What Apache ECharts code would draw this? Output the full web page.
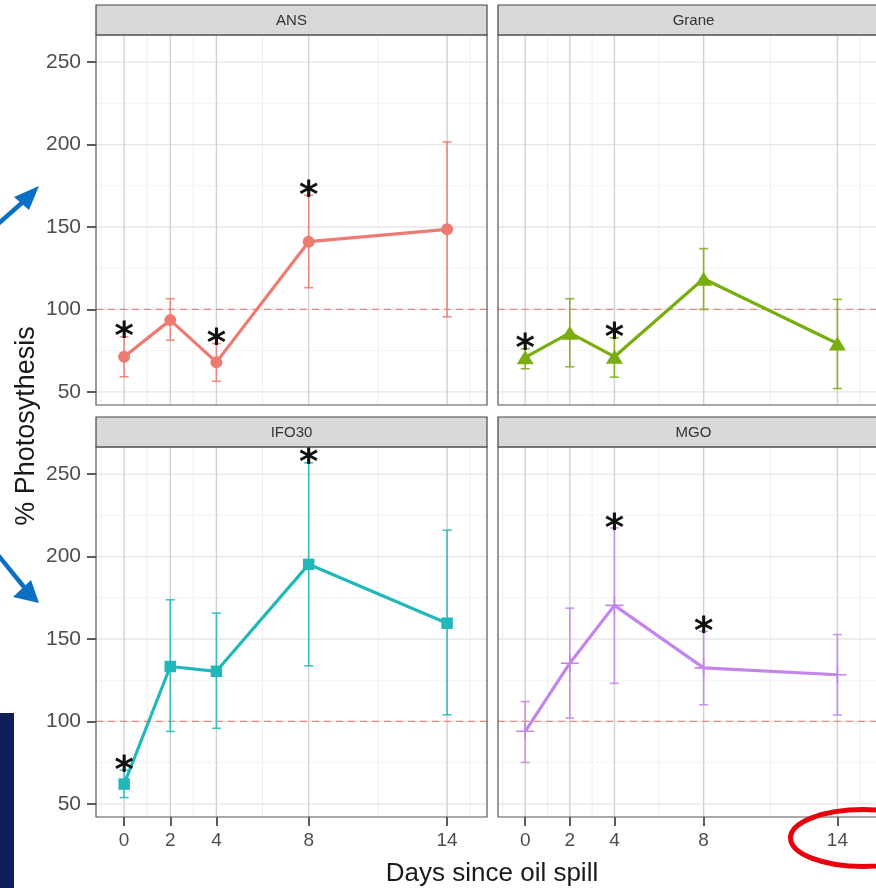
<!DOCTYPE html>
<html><head><meta charset="utf-8">
<script src="https://cdn.jsdelivr.net/npm/echarts@6/dist/echarts.min.js"></script>
<style>html,body{margin:0;padding:0;background:#fff}#c{width:876px;height:888px}</style>
</head><body><div id="c"></div><script>
// ---- data ----
const days = [0, 2, 4, 8, 14];
const xTicks = [0, 2, 4, 8, 14];
const xMinor = [-1, 1, 3, 6, 11, 15];
const yTicks = [50, 100, 150, 200, 250];
const yMinor = [75, 125, 175, 225];
const refValue = 100;
const panelNames = ['ANS', 'Grane', 'IFO30', 'MGO'];

const ansMean  = [71.3, 93.5, 68.0, 141.1, 148.6];
const ansLower = [59.1, 81.3, 56.4, 113.2, 95.5];
const ansUpper = [83.4, 106.5, 79.3, 169.3, 201.6];
const ansSig   = [1, 0, 1, 1, 0];

const graneMean  = [70.9, 85.8, 71.3, 118.6, 79.3];
const graneLower = [64.0, 65.2, 58.9, 100.0, 52.0];
const graneUpper = [76.1, 106.5, 82.8, 136.9, 106.1];
const graneSig   = [1, 0, 1, 0, 0];

const ifoMean  = [62.0, 133.3, 130.4, 195.3, 159.6];
const ifoLower = [53.8, 93.9, 95.8, 133.7, 104.0];
const ifoUpper = [70.5, 173.8, 165.7, 256.9, 216.0];
const ifoSig   = [1, 0, 0, 1, 0];

const mgoMean  = [94.0, 135.3, 170.4, 132.5, 128.3];
const mgoLower = [75.1, 102.0, 123.1, 110.1, 103.9];
const mgoUpper = [112.0, 168.7, 217.4, 154.7, 152.7];
const mgoSig   = [0, 0, 1, 1, 0];

const xTitle = 'Days since oil spill';
const yTitle = '% Photosythesis';

// ---- layout ----
const PW = 391, PH = 370, STRIP = 30;
const lefts = [96, 498, 96, 498];
const tops = [35, 35, 447, 447];
const X_MIN = -1.22, X_MAX = 15.73, Y_MIN = 42, Y_MAX = 266.5;
const FONT = '"Liberation Sans", Arial, sans-serif';
const plusPath = 'path://M0,8.2 L18,8.2 L18,9.8 L0,9.8 Z M8.2,0 L9.8,0 L9.8,18 L8.2,18 Z';

const panels = [
  {mean: ansMean, lower: ansLower, upper: ansUpper, sig: ansSig, color: '#ee7b72', symbol: 'circle', size: 12},
  {mean: graneMean, lower: graneLower, upper: graneUpper, sig: graneSig, color: '#7aad10', symbol: 'triangle', size: [17, 14]},
  {mean: ifoMean, lower: ifoLower, upper: ifoUpper, sig: ifoSig, color: '#22b8ba', symbol: 'rect', size: 11.5},
  {mean: mgoMean, lower: mgoLower, upper: mgoUpper, sig: mgoSig, color: '#c385ea', symbol: plusPath, size: 18}
];

const grid = [], xAxis = [], yAxis = [], series = [], graphic = [];

panels.forEach((p, i) => {
  const bottomRow = i >= 2, leftCol = i % 2 === 0;
  grid.push({left: lefts[i], top: tops[i], width: PW, height: PH, show: true,
    backgroundColor: '#fff', borderWidth: 0});
  xAxis.push({type: 'value', gridIndex: i, min: X_MIN, max: X_MAX, position: 'bottom',
    axisLine: {show: false, onZero: false}, splitLine: {show: false},
    axisTick: {show: bottomRow, customValues: xTicks, length: 9, lineStyle: {color: '#333', width: 1.6}},
    axisLabel: {show: bottomRow, customValues: xTicks, margin: 14, fontSize: 19, color: '#4d4d4d', fontFamily: FONT}});
  yAxis.push({type: 'value', gridIndex: i, min: Y_MIN, max: Y_MAX, position: 'left',
    axisLine: {show: false, onZero: false}, splitLine: {show: false},
    axisTick: {show: leftCol, customValues: yTicks, length: 9, lineStyle: {color: '#333', width: 1.6}},
    axisLabel: {show: leftCol, customValues: yTicks, margin: 15, fontSize: 21, color: '#4d4d4d', fontFamily: FONT}});

  // grid lines + reference line
  const gl = [];
  xMinor.forEach(v => gl.push(['vmin', v]));
  yMinor.forEach(v => gl.push(['hmin', v]));
  yTicks.forEach(v => gl.push(['hmaj', v]));
  xTicks.forEach(v => gl.push(['vmaj', v]));
  gl.push(['ref', refValue]);
  series.push({type: 'custom', xAxisIndex: i, yAxisIndex: i, z: 1, silent: true,
    data: gl.map((g, k) => [k, g[1]]),
    renderItem: (params, api) => {
      const g = gl[params.dataIndex];
      const cs = params.coordSys;
      const styles = {
        vmin: {stroke: '#efefef', lineWidth: 1},
        hmin: {stroke: '#f4f4f4', lineWidth: 1},
        hmaj: {stroke: '#e6e6e6', lineWidth: 1.3},
        vmaj: {stroke: '#d2d2d2', lineWidth: 1.4},
        ref: {stroke: '#e48a84', lineWidth: 1.1, lineDash: [7, 5]}
      };
      let shape;
      if (g[0][0] === 'v') {
        const x = api.coord([g[1], Y_MIN])[0];
        shape = {x1: x, y1: cs.y, x2: x, y2: cs.y + cs.height};
      } else {
        const y = api.coord([X_MIN, g[1]])[1];
        shape = {x1: cs.x, y1: y, x2: cs.x + cs.width, y2: y};
      }
      return {type: 'line', shape, style: styles[g[0]]};
    }});

  // error bars
  series.push({type: 'custom', xAxisIndex: i, yAxisIndex: i, z: 3, silent: true,
    data: days.map((d, k) => [d, p.lower[k], p.upper[k]]),
    renderItem: (params, api) => {
      const lo = api.coord([api.value(0), api.value(1)]);
      const hi = api.coord([api.value(0), api.value(2)]);
      const w = 4.5;
      const st = {stroke: p.color, lineWidth: 1.6, opacity: 0.85};
      return {type: 'group', children: [
        {type: 'line', shape: {x1: lo[0], y1: lo[1], x2: hi[0], y2: hi[1]}, style: st},
        {type: 'line', shape: {x1: lo[0] - w, y1: lo[1], x2: lo[0] + w, y2: lo[1]}, style: st},
        {type: 'line', shape: {x1: hi[0] - w, y1: hi[1], x2: hi[0] + w, y2: hi[1]}, style: st}
      ]};
    }});

  // line + points
  series.push({type: 'line', xAxisIndex: i, yAxisIndex: i, z: 4, silent: true,
    data: days.map((d, k) => [d, p.mean[k]]),
    symbol: p.symbol, symbolSize: p.size, showSymbol: true,
    lineStyle: {color: p.color, width: 3.2},
    itemStyle: {color: p.color, opacity: 1},
    animation: false});

  // significance asterisks
  series.push({type: 'custom', xAxisIndex: i, yAxisIndex: i, z: 5, silent: true,
    data: days.map((d, k) => [d, p.upper[k], p.sig[k]]).filter(r => r[2] === 1),
    renderItem: (params, api) => {
      const c = api.coord([api.value(0), api.value(1)]);
      return {type: 'text', x: c[0], y: c[1] + 2,
        style: {text: '*', fill: '#111', font: 'bold 37px "DejaVu Sans", sans-serif',
          align: 'center', verticalAlign: 'middle'}};
    }});

  // strip
  graphic.push({type: 'rect', z: 10, shape: {x: lefts[i], y: tops[i] - STRIP, width: PW, height: STRIP},
    style: {fill: '#d9d9d9', stroke: '#444', lineWidth: 1.2}});
  graphic.push({type: 'text', z: 11, x: lefts[i] + PW / 2, y: tops[i] - STRIP / 2 + 1,
    style: {text: panelNames[i], fill: '#333', font: '15px ' + FONT, align: 'center', verticalAlign: 'middle'}});
  // panel border
  graphic.push({type: 'rect', z: 10, shape: {x: lefts[i], y: tops[i], width: PW, height: PH},
    style: {fill: 'none', stroke: '#555', lineWidth: 1.2}});
});

// axis titles
graphic.push({type: 'text', z: 11, x: 492, y: 874,
  style: {text: xTitle, fill: '#1a1a1a', font: '26px ' + FONT, align: 'center', verticalAlign: 'middle'}});
graphic.push({type: 'text', z: 11, x: 27, y: 426, rotation: Math.PI / 2,
  style: {text: yTitle, fill: '#1a1a1a', font: '27px ' + FONT, align: 'center', verticalAlign: 'middle'}});

// slide annotations
const arrowBlue = '#0b6fc4';
graphic.push({type: 'line', z: 12, shape: {x1: -2, y1: 224, x2: 24, y2: 201}, style: {stroke: arrowBlue, lineWidth: 4.5}});
graphic.push({type: 'polygon', z: 12, shape: {points: [[39, 186], [14, 197], [29, 210]]}, style: {fill: arrowBlue}});
graphic.push({type: 'line', z: 12, shape: {x1: -2, y1: 555, x2: 24, y2: 587}, style: {stroke: arrowBlue, lineWidth: 4.5}});
graphic.push({type: 'polygon', z: 12, shape: {points: [[39, 603], [13, 597], [31, 580]]}, style: {fill: arrowBlue}});
graphic.push({type: 'rect', z: 12, shape: {x: 0, y: 713, width: 14, height: 175}, style: {fill: '#0e1f5b'}});
graphic.push({type: 'ellipse', z: 12, shape: {cx: 863, cy: 838, rx: 72.5, ry: 28.5},
  style: {fill: 'none', stroke: '#e8000d', lineWidth: 5}});

const chart = echarts.init(document.getElementById('c'), null, {renderer: 'canvas'});
chart.setOption({animation: false, backgroundColor: '#fff', grid, xAxis, yAxis, series, graphic});
</script></body></html>
